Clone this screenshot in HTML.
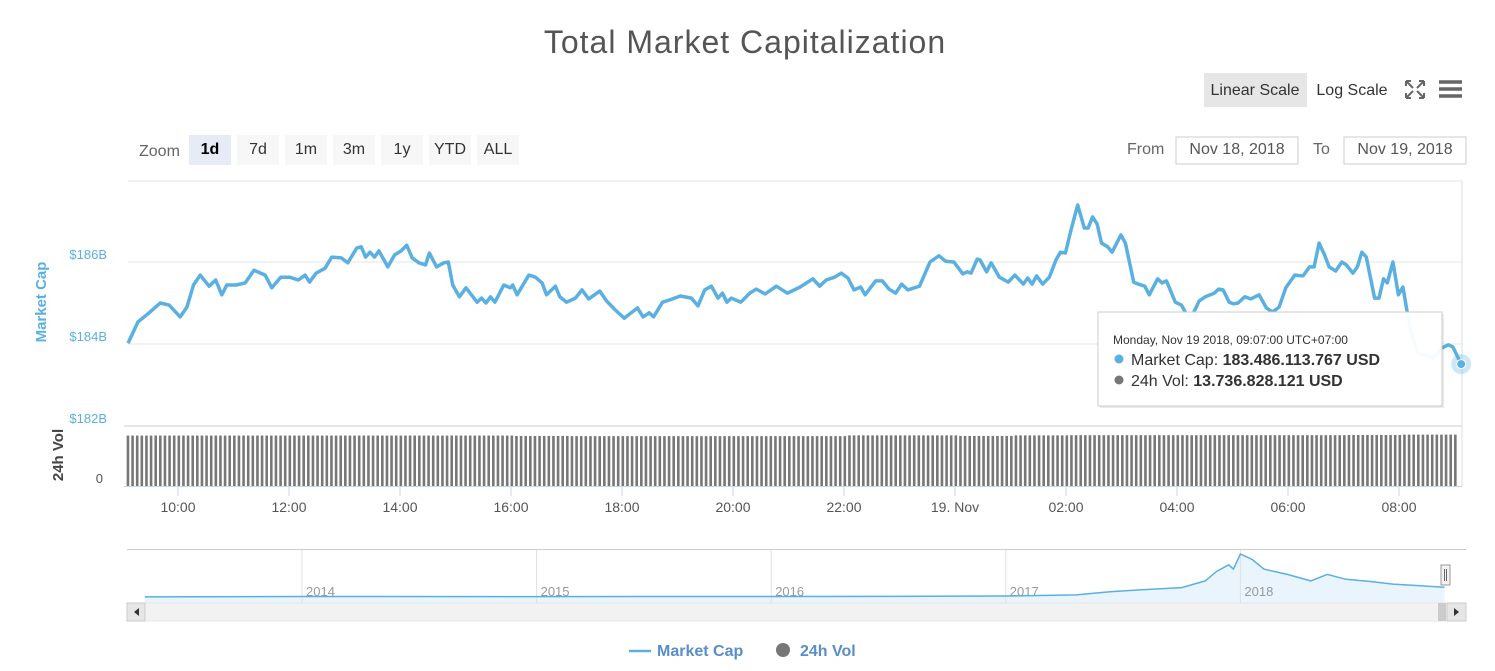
<!DOCTYPE html>
<html><head><meta charset="utf-8"><style>
body{margin:0;background:#fff;width:1495px;height:671px;overflow:hidden;font-family:"Liberation Sans",sans-serif}
svg{display:block}
</style></head><body>
<svg id="chart" width="1495" height="671" xmlns="http://www.w3.org/2000/svg" font-family="Liberation Sans, sans-serif">
<text x="745" y="53" text-anchor="middle" font-size="32" fill="#555" letter-spacing="1">Total Market Capitalization</text>
<rect x="1204" y="73" width="103" height="34" fill="#e6e6e6"/>
<text x="1255" y="95" text-anchor="middle" font-size="16" fill="#333">Linear Scale</text>
<text x="1352" y="95" text-anchor="middle" font-size="16" fill="#333">Log Scale</text>
<g stroke="#666" stroke-width="2" fill="none">
<path d="M1406 81h5M1406 81v5M1424 81h-5M1424 81v5M1406 98h5M1406 98v-5M1424 98h-5M1424 98v-5M1407 82l6 6M1423 82l-6 6M1407 97l6-6M1423 97l-6-6"/>
</g>
<g stroke="#666" stroke-width="3.5"><path d="M1439 82h23M1439 89h23M1439 96h23"/></g>
<text x="139" y="156" font-size="16" fill="#666">Zoom</text>
<g font-size="16" text-anchor="middle">
<rect x="189" y="135" width="42" height="30" fill="#e6ebf5"/><text x="210" y="154" font-weight="bold" fill="#000">1d</text>
<rect x="237" y="135" width="42" height="30" fill="#f7f7f7"/><text x="258" y="154" fill="#333">7d</text>
<rect x="285" y="135" width="42" height="30" fill="#f7f7f7"/><text x="306" y="154" fill="#333">1m</text>
<rect x="333" y="135" width="42" height="30" fill="#f7f7f7"/><text x="354" y="154" fill="#333">3m</text>
<rect x="381" y="135" width="42" height="30" fill="#f7f7f7"/><text x="402" y="154" fill="#333">1y</text>
<rect x="429" y="135" width="42" height="30" fill="#f7f7f7"/><text x="450" y="154" fill="#333">YTD</text>
<rect x="477" y="135" width="42" height="30" fill="#f7f7f7"/><text x="498" y="154" fill="#333">ALL</text>
</g>
<text x="1127" y="154" font-size="16" fill="#666">From</text>
<rect x="1176" y="137" width="122" height="27" fill="#fff" stroke="#ccc"/>
<text x="1237" y="154" text-anchor="middle" font-size="16" fill="#555">Nov 18, 2018</text>
<text x="1313" y="154" font-size="16" fill="#666">To</text>
<rect x="1344" y="137" width="122" height="27" fill="#fff" stroke="#ccc"/>
<text x="1405" y="154" text-anchor="middle" font-size="16" fill="#555">Nov 19, 2018</text>
<g id="plot"></g>
<g id="nav"></g>
<text transform="translate(46,302) rotate(-90)" text-anchor="middle" font-size="15" font-weight="bold" fill="#5ab0e0">Market Cap</text>
<text transform="translate(63,455) rotate(-90)" text-anchor="middle" font-size="15" font-weight="bold" fill="#444">24h Vol</text>
<g>
<g><path d="M629 651h22" stroke="#5ab0e0" stroke-width="2.5"/><text x="657" y="656" font-size="16" font-weight="bold" fill="#5a8ec8">Market Cap</text></g>
<g><circle cx="783" cy="650" r="7" fill="#777"/><text x="800" y="656" font-size="16" font-weight="bold" fill="#5a8ec8">24h Vol</text></g>
</g>
</svg>
<script>
const hours=[9.10,9.28,9.48,9.68,9.84,10.04,10.16,10.28,10.40,10.56,10.68,10.79,10.88,11.05,11.21,11.37,11.57,11.69,11.85,12.01,12.17,12.29,12.37,12.49,12.65,12.77,12.94,13.06,13.22,13.30,13.38,13.46,13.54,13.62,13.78,13.90,14.02,14.12,14.22,14.34,14.46,14.53,14.66,14.79,14.87,14.95,15.07,15.19,15.39,15.47,15.55,15.63,15.71,15.87,15.99,16.03,16.11,16.32,16.44,16.56,16.64,16.80,16.88,17.00,17.16,17.28,17.40,17.60,17.72,17.88,18.04,18.28,18.38,18.49,18.57,18.73,18.85,19.05,19.25,19.37,19.49,19.61,19.73,19.81,19.89,19.97,20.14,20.30,20.42,20.58,20.78,20.98,
21.21,21.44,21.56,21.68,21.83,21.95,22.07,22.18,22.30,22.38,22.57,22.69,22.81,22.93,23.04,23.15,23.36,23.55,23.71,23.83,23.98,24.14,24.22,24.29,24.40,24.45,24.57,24.65,24.80,24.96,25.08,25.23,25.31,25.39,25.47,25.58,25.70,25.82,25.90,25.99,26.09,26.21,26.33,26.40,26.48,26.56,26.64,26.75,26.83,26.99,27.07,27.22,27.30,27.42,27.50,27.65,27.73,27.81,27.97,28.08,28.20,28.28,28.40,28.51,28.67,28.75,28.83,28.94,29.02,29.10,29.22,29.33,29.48,29.61,29.72,29.84,29.96,30.12,30.27,30.39,30.47,30.56,30.66,30.74,30.86,30.97,31.05,31.17,31.25,31.33,31.41,31.56,31.64,31.72,31.79,31.89,31.99,32.07,32.15,32.22,32.34,32.62,32.77,32.89,32.97,33.12];
const marketCap=[184.02,184.54,184.76,185.00,184.95,184.66,184.90,185.44,185.68,185.41,185.56,185.20,185.44,185.44,185.49,185.80,185.68,185.37,185.63,185.63,185.56,185.68,185.51,185.73,185.85,186.12,186.10,185.98,186.34,186.37,186.12,186.24,186.12,186.27,185.88,186.17,186.27,186.41,186.10,185.98,185.93,186.22,185.88,185.98,186.00,185.44,185.15,185.37,185.02,185.12,185.00,185.15,185.02,185.44,185.37,185.44,185.20,185.68,185.63,185.49,185.20,185.41,185.15,185.02,185.12,185.32,185.10,185.29,185.05,184.83,184.63,184.88,184.66,184.76,184.66,185.02,185.07,185.17,185.12,184.93,185.32,185.41,185.12,185.24,185.02,185.12,185.02,185.24,185.34,185.22,185.41,185.24,
185.39,185.59,185.41,185.56,185.63,185.73,185.61,185.32,185.39,185.20,185.54,185.54,185.34,185.24,185.46,185.32,185.41,186.00,186.15,186.02,186.00,185.71,185.76,185.73,186.07,186.05,185.76,185.98,185.63,185.51,185.68,185.46,185.61,185.46,185.66,185.46,185.63,186.05,186.24,186.22,186.78,187.39,186.83,186.83,187.10,186.93,186.46,186.37,186.24,186.66,186.46,185.51,185.46,185.41,185.20,185.59,185.49,185.54,185.02,184.95,184.66,184.71,185.05,185.15,185.24,185.34,185.32,185.02,184.98,185.00,185.15,185.10,185.20,184.88,184.78,184.90,185.37,185.68,185.66,185.88,185.88,186.46,186.17,185.88,185.78,186.00,185.93,185.73,185.88,186.24,186.12,185.12,185.12,185.59,185.49,186.00,185.20,185.39,184.76,184.29,183.78,183.66,183.90,183.98,183.93,183.51];
const volHours=[9,10,11,12,13,14,15,16,17,18,19,20,21,22,23,24,25,26,27,28,29,30,31,32,33];
const volumes=[13.45,13.45,13.45,13.45,13.45,13.45,13.45,13.35,13.3,13.3,13.3,13.3,13.3,13.5,13.5,13.35,13.5,13.55,13.55,13.55,13.55,13.55,13.6,13.7,13.75];
const yTicks=[182,184,186];
const xTickHours=[10,12,14,16,18,20,22,24,26,28,30,32];
const xTickLabels=["10:00","12:00","14:00","16:00","18:00","20:00","22:00","19. Nov","02:00","04:00","06:00","08:00"];
const navYears=[2013.33,2014,2015,2016,2016.5,2017,2017.3,2017.45,2017.6,2017.75,2017.85,2017.9,2017.95,2017.97,2018.0,2018.05,2018.1,2018.2,2018.3,2018.37,2018.45,2018.55,2018.65,2018.75,2018.87];
const navCaps=[1.5,10,7,9,12,18,40,100,140,175,300,480,600,520,800,700,520,420,300,420,330,290,240,215,183];
const navLabels=["2014","2015","2016","2017","2018"];
const navLabelYears=[2014,2015,2016,2017,2018];

const NS="http://www.w3.org/2000/svg";
const plot=document.getElementById('plot'), nav=document.getElementById('nav');
function mk(tag,attrs,parent){const e=document.createElementNS(NS,tag);for(const k in attrs)e.setAttribute(k,attrs[k]);parent.appendChild(e);return e;}
const xS=h=>178+(h-10)*55.5;
const yS=v=>344-(v-184)*41;
const yV=v=>486-v*60/16;
let g=mk('line',{x1:128,x2:1462,y1:181,y2:181,stroke:'#e6e6e6'},plot);

yTicks.forEach(t=>{
 const l=mk('line',{x1:128,x2:1462,y1:yS(t),y2:yS(t),stroke:'#e6e6e6'},plot);
 
 const tx=mk('text',{x:107,y:yS(t)-3,'text-anchor':'end','font-size':13,fill:'#5ab0e0'},plot);
 tx.textContent='$'+t+'B';
 
});
let sep=mk('line',{x1:124,x2:1462,y1:426,y2:426,stroke:'#e6e6e6','stroke-width':2},plot);

let rb=mk('line',{x1:1462,x2:1462,y1:181,y2:486,stroke:'#ddd'},plot);

let z=mk('text',{x:103,y:483,'text-anchor':'end','font-size':13,fill:'#555'},plot);z.textContent='0';

for(let i=0;i<volHours.length-1;i++){
 for(let k=0;k<12;k++){
  const h=volHours[i]+0.1+k/12; if(h>33.12)break;
  const x=xS(h), y=yV(volumes[i]);
  const b=mk('rect',{x:x-1.4,y:y,width:2.6,height:486-y,fill:'#777'},plot);
  
  
 }
}
let vb=mk('line',{x1:124,x2:1462,y1:486.5,y2:486.5,stroke:'#ccd6eb'},plot);

xTickHours.forEach((h,i)=>{
 const x=xS(h);
 mk('line',{x1:x,x2:x,y1:486,y2:496,stroke:'#ccd6eb'},plot);
 const t=mk('text',{x:x,y:512,'text-anchor':'middle','font-size':14,fill:'#555'},plot);
 t.textContent=xTickLabels[i];
 
});
const d=hours.map((h,i)=>(i?'L':'M')+xS(h).toFixed(1)+' '+yS(marketCap[i]).toFixed(1)).join(' ');
const line=mk('path',{d:d,fill:'none',stroke:'#5ab0e0','stroke-width':3.5,'stroke-linejoin':'round'},plot);

const li=hours.length-1;
const halo=mk('circle',{cx:xS(hours[li]),cy:yS(marketCap[li]),r:10,fill:'#5ab0e0','fill-opacity':0.3},plot);

const pt=mk('circle',{cx:xS(hours[li]),cy:yS(marketCap[li]),r:4.5,fill:'#5ab0e0',stroke:'#fff','stroke-width':1},plot);

const tt=mk('g',{},plot);

mk('rect',{x:1100,y:314,width:344,height:94,fill:'#000','fill-opacity':0.08},tt);
mk('rect',{x:1098,y:312,width:344,height:94,fill:'#fff','fill-opacity':0.96,stroke:'#ccc'},tt);
let t1=mk('text',{x:1113,y:344,'font-size':12,fill:'#333'},tt);t1.textContent='Monday, Nov 19 2018, 09:07:00 UTC+07:00';
mk('circle',{cx:1119,cy:359,r:4.5,fill:'#5ab0e0'},tt);
let t2=mk('text',{x:1131,y:365,'font-size':16,fill:'#333'},tt);t2.innerHTML='Market Cap: <tspan font-weight="bold">183.486.113.767 USD</tspan>';
mk('circle',{cx:1119,cy:380,r:4.5,fill:'#777'},tt);
let t3=mk('text',{x:1131,y:386,'font-size':16,fill:'#333'},tt);t3.innerHTML='24h Vol: <tspan font-weight="bold">13.736.828.121 USD</tspan>';
const nx=y=>302+(y-2014)*234.6, ny=v=>597-v*0.0537;
let nb=mk('line',{x1:127,x2:1466,y1:549.5,y2:549.5,stroke:'#ccc'},nav);

const nd=navYears.map((y,i)=>(i?'L':'M')+nx(y).toFixed(1)+' '+ny(navCaps[i]).toFixed(1)).join(' ');
const na=mk('path',{d:nd+' L'+nx(navYears[navYears.length-1]).toFixed(1)+' 603 L'+nx(navYears[0]).toFixed(1)+' 603 Z',fill:'#eaf4fc'},nav);

navLabelYears.forEach((y,i)=>{
 mk('line',{x1:nx(y),x2:nx(y),y1:550,y2:603,stroke:'#e0e0e0'},nav);
 const t=mk('text',{x:nx(y)+4,y:596,'font-size':13,fill:'#999'},nav);t.textContent=navLabels[i];
 
});
const nl=mk('path',{d:nd,fill:'none',stroke:'#5ab0e0','stroke-width':1.5},nav);

const hnd=mk('rect',{x:1441,y:565,width:9,height:20,fill:'#f2f2f2',stroke:'#999'},nav);

mk('path',{d:'M1444.5 569v12M1446.5 569v12',stroke:'#666'},nav);
const sb=mk('rect',{x:127,y:603,width:1339,height:18,fill:'#f2f2f2',stroke:'#e6e6e6'},nav);

const sbt=mk('rect',{x:1438,y:603,width:8,height:18,fill:'#ccc'},nav);

const bl=mk('rect',{x:127,y:603,width:18,height:18,fill:'#e6e6e6',stroke:'#ccc'},nav);

mk('path',{d:'M139 608l-5 4 5 4z',fill:'#333'},nav);
const br=mk('rect',{x:1447,y:603,width:19,height:18,fill:'#e6e6e6',stroke:'#ccc'},nav);

mk('path',{d:'M1454 608l5 4-5 4z',fill:'#333'},nav);
</script>
</body></html>
